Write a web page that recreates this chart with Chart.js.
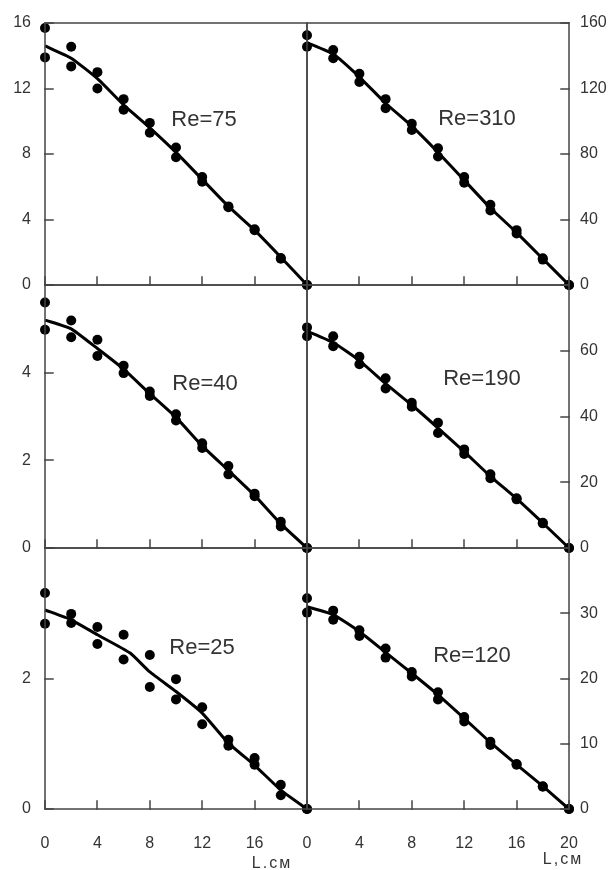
<!DOCTYPE html>
<html>
<head>
<meta charset="utf-8">
<script src="https://cdn.jsdelivr.net/npm/chart.js@4/dist/chart.umd.min.js"></script>
<style>
  body { margin: 0; background: #fff; }
  #wrap { position: relative; width: 614px; height: 870px; overflow: hidden; }
  canvas { position: absolute; left: 0; top: 0; }
  .lbl { position: absolute; font-family: "Liberation Sans", Arial, sans-serif; color: #333;
         white-space: nowrap; transform: translate(-50%, -50%); }
  .re { font-size: 22px; }
  .ax { font-size: 16px; letter-spacing: 2px; }
</style>
</head>
<body>
<div id="wrap">
  <canvas id="c75" width="614" height="870"></canvas>
  <canvas id="c310" width="614" height="870"></canvas>
  <canvas id="c40" width="614" height="870"></canvas>
  <canvas id="c190" width="614" height="870"></canvas>
  <canvas id="c25" width="614" height="870"></canvas>
  <canvas id="c120" width="614" height="870"></canvas>
  <div class="lbl re" style="left:204px;top:119px">Re=75</div>
  <div class="lbl re" style="left:477px;top:118px">Re=310</div>
  <div class="lbl re" style="left:205px;top:383px">Re=40</div>
  <div class="lbl re" style="left:482px;top:378px">Re=190</div>
  <div class="lbl re" style="left:202px;top:647px">Re=25</div>
  <div class="lbl re" style="left:472px;top:655px">Re=120</div>
  <div class="lbl ax" style="left:272px;top:863px">L.см</div>
  <div class="lbl ax" style="left:563px;top:859px">L,см</div>
</div>
<script>
// L positions, cm
const L = [0, 2, 4, 6, 8, 10, 12, 14, 16, 18, 20];

// Re=75 (left, top)
const re75A = [15.7, 14.55, 13.0, 11.35, 9.9, 8.4, 6.6, 4.8, 3.4, 1.65, 0];
const re75B = [13.9, 13.35, 12.0, 10.7, 9.3, 7.8, 6.3, 4.75, 3.35, 1.6, 0];
const re75Fit = [14.6, 13.85, 12.6, 11.0, 9.6, 8.1, 6.45, 4.8, 3.35, 1.7, 0];

// Re=310 (right, top)
const re310A = [152.5, 143.5, 129, 113.5, 98.5, 83.5, 66, 49, 33.5, 16.3, 0];
const re310B = [145.5, 138.5, 124, 108, 94.7, 78.5, 62.5, 45.5, 31.5, 15.5, 0];
const re310Fit = [148, 141, 127, 111, 97, 81, 64, 47, 32, 16, 0];

// Re=40 (left, middle)
const re40A = [5.6, 5.19, 4.75, 4.16, 3.57, 3.05, 2.39, 1.87, 1.24, 0.6, 0];
const re40B = [4.98, 4.81, 4.38, 3.99, 3.47, 2.91, 2.28, 1.68, 1.18, 0.49, 0];
const re40Fit = [5.2, 5.0, 4.55, 4.08, 3.52, 2.98, 2.33, 1.77, 1.2, 0.55, 0];

// Re=190 (right, middle)
const re190A = [67.1, 64.4, 58.2, 51.6, 44.2, 38.1, 30.0, 22.4, 15.1, 7.7, 0];
const re190B = [64.4, 61.4, 55.9, 48.5, 43.0, 35.0, 28.6, 21.2, 14.8, 7.5, 0];
const re190Fit = [66, 62.5, 57, 50, 43.5, 36.5, 29.3, 21.8, 15, 7.6, 0];

// Re=25 (left, bottom)
const re25A = [3.31, 2.99, 2.79, 2.67, 2.36, 1.99, 1.56, 1.06, 0.78, 0.37, 0];
const re25B = [2.84, 2.85, 2.53, 2.29, 1.87, 1.68, 1.30, 0.97, 0.68, 0.21, 0];
const re25FitL = [0, 2, 4, 6.5, 8, 10, 12, 14, 16, 18, 20];
const re25Fit = [3.05, 2.9, 2.67, 2.39, 2.1, 1.8, 1.47, 1.01, 0.67, 0.29, 0];

// Re=120 (right, bottom)
const re120A = [32.3, 30.4, 27.4, 24.6, 21.0, 17.9, 14.1, 10.3, 6.9, 3.5, 0];
const re120B = [30.1, 29.0, 26.5, 23.2, 20.3, 16.8, 13.4, 9.8, 6.8, 3.4, 0];
const re120Fit = [31, 29.8, 27.2, 24, 20.8, 17.5, 13.9, 10.2, 6.8, 3.5, 0];

const frame = '#444';
const txt = '#333';
const fam = '"Liberation Sans", Arial, sans-serif';
const W = 614, H = 870;
const YW = 45;          // y axis box width (labels live in it)
const XH = 61;          // bottom-row x axis box height
const TICK = 8;         // inward tick length

// frame box + inward tick marks, placed from the chart's own scales
const framePlugin = {
    id: 'frame',
    afterDatasetsDraw(chart) {
        const { ctx, chartArea: a, scales } = chart;
        const left = Math.round(a.left), right = Math.round(a.right);
        const top = Math.round(a.top), bottom = Math.round(a.bottom);
        ctx.save();
        ctx.strokeStyle = frame;
        ctx.lineWidth = 1.5;
        ctx.lineCap = 'square';
        ctx.strokeRect(left, top, right - left, bottom - top);
        ctx.beginPath();
        const xs = scales.x;
        xs.ticks.forEach(t => {
            const x = Math.round(xs.getPixelForValue(t.value));
            ctx.moveTo(x, bottom);
            ctx.lineTo(x, bottom - TICK);
        });
        const ys = scales.y;
        const onLeft = ys.options.position === 'left';
        const x0 = onLeft ? left : right;
        ys.ticks.forEach(t => {
            const y = Math.round(ys.getPixelForValue(t.value));
            ctx.moveTo(x0, y);
            ctx.lineTo(onLeft ? x0 + TICK : x0 - TICK, y);
        });
        ctx.stroke();
        ctx.restore();
    },
};

function pts(xs, ys) {
    return xs.map((x, i) => ({ x, y: ys[i] })).filter(p => p.y != null);
}

// box = plot area in page pixels [left, top, right, bottom]
function makePanel(id, box, yMax, yStep, yPos, opts) {
    const [l, t, r, b] = box;
    const fitL = opts.fitL || L;
    const xh = opts.showX ? XH : 0;

    const padding = {
        left: yPos === 'left' ? l - YW : l,
        right: yPos === 'left' ? W - r : W - r - YW,
        top: t,
        bottom: H - b - xh,
    };

    new Chart(document.getElementById(id), {
        type: 'scatter',
        data: {
            datasets: [
                {
                    data: pts(fitL, opts.fit),
                    showLine: true,
                    borderColor: '#000',
                    borderWidth: 3,
                    pointRadius: 0,
                    tension: 0.15,
                    clip: false,
                },
                {
                    data: pts(L, opts.a).concat(pts(L, opts.b)),
                    showLine: false,
                    backgroundColor: '#000',
                    borderColor: '#000',
                    pointRadius: 5,
                    borderWidth: 0,
                    clip: false,
                },
            ],
        },
        options: {
            responsive: false,
            maintainAspectRatio: false,
            animation: false,
            devicePixelRatio: 1,
            layout: { padding },
            plugins: { legend: { display: false }, tooltip: { enabled: false } },
            scales: {
                x: {
                    type: 'linear', position: 'bottom', min: 0, max: 20,
                    ticks: {
                        stepSize: 4, display: !!opts.showX, color: txt,
                        font: { family: fam, size: 16 }, padding: 25,
                        callback: v => (opts.hideX20 && v === 20) ? '' : v,
                    },
                    grid: { display: false, drawTicks: false },
                    border: { display: false },
                    afterFit: s => { s.height = xh; },
                },
                y: {
                    type: 'linear', position: yPos, min: 0, max: yMax,
                    ticks: {
                        stepSize: yStep, color: txt,
                        font: { family: fam, size: 16, lineHeight: 1 },
                        padding: yPos === 'left' ? 14 : 11,
                        callback: v => (opts.hideTop && v === yMax) ? '' : v,
                    },
                    grid: { display: false, drawTicks: false },
                    border: { display: false },
                    afterFit: s => { s.width = YW; },
                },
            },
        },
        plugins: [framePlugin],
    });
}

makePanel('c75', [45, 23, 307, 285], 16, 4, 'left', { a: re75A, b: re75B, fit: re75Fit });
makePanel('c310', [307, 23, 569, 285], 160, 40, 'right', { a: re310A, b: re310B, fit: re310Fit });
makePanel('c40', [45, 285, 307, 548], 6, 2, 'left', { a: re40A, b: re40B, fit: re40Fit, hideTop: true });
makePanel('c190', [307, 285, 569, 548], 80, 20, 'right', { a: re190A, b: re190B, fit: re190Fit, hideTop: true });
makePanel('c25', [45, 548, 307, 809], 4, 2, 'left', { a: re25A, b: re25B, fit: re25Fit, fitL: re25FitL, hideTop: true, showX: true, hideX20: true });
makePanel('c120', [307, 548, 569, 809], 40, 10, 'right', { a: re120A, b: re120B, fit: re120Fit, hideTop: true, showX: true });
</script>
</body>
</html>
